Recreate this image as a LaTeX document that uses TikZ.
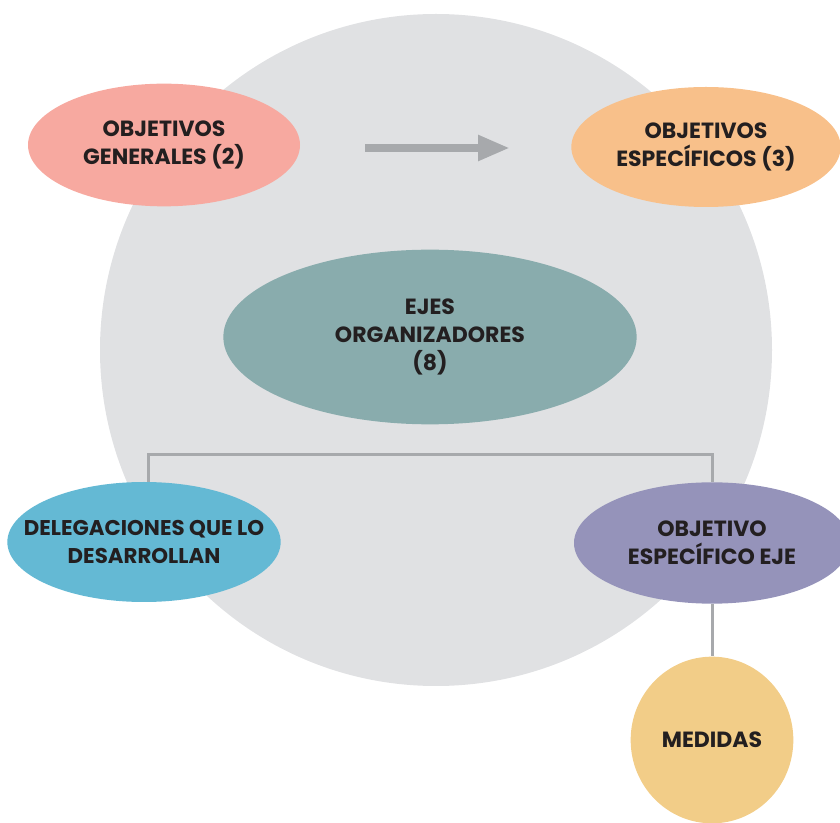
\documentclass[tikz,border=0pt]{standalone}
\usepackage{fontspec}
\setmainfont{Poppins}
\usetikzlibrary{shapes.geometric,arrows.meta}

\definecolor{circlegrey}{RGB}{224,225,227}
\definecolor{linegrey}{RGB}{167,169,172}
\definecolor{textdark}{RGB}{35,31,32}
\definecolor{salmon}{RGB}{247,169,160}
\definecolor{peach}{RGB}{248,192,138}
\definecolor{teal}{RGB}{137,172,173}
\definecolor{skyblue}{RGB}{100,185,212}
\definecolor{lilac}{RGB}{149,147,186}
\definecolor{sand}{RGB}{242,205,136}

\tikzset{
  blob/.style={ellipse, inner sep=0pt},
  blobtext/.style={align=center, text=textdark, inner sep=0pt,
    font=\fontsize{16.5}{21}\selectfont\bfseries},
  conn/.style={draw=linegrey, line width=2.25pt}
}

\begin{document}
\begin{tikzpicture}[x=0.75pt,y=0.75pt,yscale=-1,xscale=1]
        \useasboundingbox (0,0) rectangle (840,823);

        %Shape: Circle
        \fill [circlegrey] (436,350) circle [radius=336];

        %Shape: Ellipse
        \node (gen) [blob, fill=salmon, minimum width=204pt, minimum height=92pt] at (164,145) {};
        \node (gentext) [blobtext] at (gen) {OBJETIVOS\\GENERALES (2)};
        %Shape: Ellipse
        \node (esp) [blob, fill=peach, minimum width=202pt, minimum height=90pt] at (706,147) {};
        \node (esptext) [blobtext] at (esp) {OBJETIVOS\\ESPECÍFICOS (3)};
        %Shape: Ellipse
        \node (ejes) [blob, fill=teal, minimum width=310pt, minimum height=131pt] at (430,337) {};
        \node (ejestext) [blobtext] at (ejes) {EJES\\ORGANIZADORES\\(8)};
        %Shape: Ellipse
        \node (deleg) [blob, fill=skyblue, minimum width=205pt, minimum height=90pt] at (144,542) {};
        \node (delegtext) [blobtext, font=\fontsize{16}{21}\selectfont\bfseries] at (deleg) {DELEGACIONES QUE LO\\DESARROLLAN};
        %Shape: Ellipse
        \node (objeje) [blob, fill=lilac, minimum width=207pt, minimum height=91pt] at (712,543) {};
        \node (objejetext) [blobtext] at (objeje) {OBJETIVO\\ESPECÍFICO EJE};
        %Shape: Ellipse
        \node (medidas) [blob, fill=sand, minimum width=122pt, minimum height=125pt] at (712,740) {};
        \node (medidastext) [blobtext] at (medidas) {MEDIDAS};

        %Straight Lines
        \draw [linegrey, line width=6pt, -{Triangle[length=24pt,width=18pt]}] (365,148) -- (510,148);

        %Straight Lines
        \draw [conn] (deleg.north) ++(4,0) -- ++(0,-27) -| (objeje.north);
        %Straight Lines
        \draw [conn] (objeje.south) -- (medidas.north);

\end{tikzpicture}
\end{document}
